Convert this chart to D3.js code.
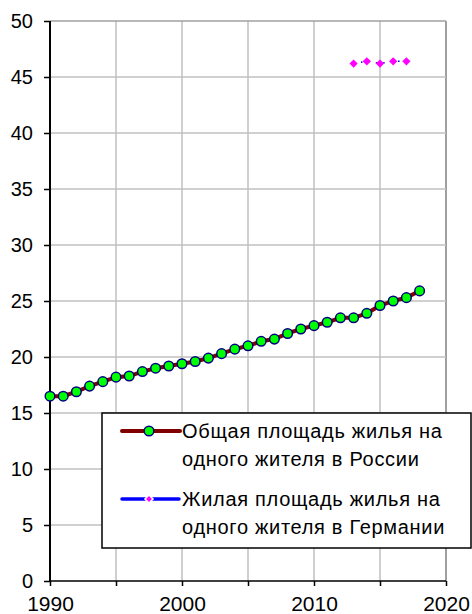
<!DOCTYPE html>
<html>
<head>
<meta charset="utf-8">
<script src="https://cdn.jsdelivr.net/npm/d3@7"></script>
<style>
  body { margin: 0; background: #fff; }
  text { font-family: "Liberation Sans", Arial, sans-serif; }
</style>
</head>
<body>
<div id="chart"></div>
<script>
var ruYears = [1990, 1991, 1992, 1993, 1994, 1995, 1996, 1997, 1998, 1999,
               2000, 2001, 2002, 2003, 2004, 2005, 2006, 2007, 2008, 2009,
               2010, 2011, 2012, 2013, 2014, 2015, 2016, 2017, 2018];
var ruValues = [16.5, 16.5, 16.9, 17.4, 17.8, 18.2, 18.3, 18.7, 19.0, 19.2,
                19.4, 19.6, 19.9, 20.3, 20.7, 21.0, 21.4, 21.6, 22.1, 22.5,
                22.8, 23.1, 23.5, 23.5, 23.9, 24.6, 25.0, 25.3, 25.9];
var deYears = [2013, 2014, 2015, 2016, 2017];
var deValues = [46.2, 46.4, 46.2, 46.4, 46.4];
var xTicks = [1990, 1995, 2000, 2005, 2010, 2015, 2020];
var xLabels = [1990, 2000, 2010, 2020];
var yTicks = [0, 5, 10, 15, 20, 25, 30, 35, 40, 45, 50];
var legendLabels = [
    ["Общая площадь жилья на", "одного жителя в России"],
    ["Жилая площадь жилья на", "одного жителя в Германии"]
];

var width = 472, height = 614;
var font = "'Liberation Sans', Arial, sans-serif";
var svg = d3.select("#chart").append("svg")
    .attr("width", width)
    .attr("height", height);

var x = d3.scaleLinear().domain([1990, 2020]).range([50, 446]);
var y = d3.scaleLinear().domain([0, 50]).range([581, 21]);

// grid
svg.append("g").selectAll("line")
    .data(xTicks.slice(1))
    .enter().append("line")
    .attr("x1", function(d) { return x(d); })
    .attr("x2", function(d) { return x(d); })
    .attr("y1", y(0)).attr("y2", y(50))
    .attr("stroke", function(d) { return d == 2020 ? "#808080" : "#c0c0c0"; })
    .attr("stroke-width", 1.5);
svg.append("g").selectAll("line")
    .data(yTicks.slice(1))
    .enter().append("line")
    .attr("x1", x(1990)).attr("x2", x(2020))
    .attr("y1", function(d) { return y(d); })
    .attr("y2", function(d) { return y(d); })
    .attr("stroke", function(d) { return d == 50 ? "#a0a0a0" : "#c0c0c0"; })
    .attr("stroke-width", 1.5);

// axes
var yAxis = svg.append("g")
    .attr("transform", "translate(" + x(1990) + ",0)")
    .call(d3.axisLeft(y).tickValues(yTicks).tickSize(6).tickPadding(11));
yAxis.attr("font-family", font);
yAxis.select(".domain").attr("stroke-width", 2).attr("d", "M0," + y(0) + "V" + y(50));
yAxis.selectAll("line").attr("stroke-width", 1.5);
yAxis.selectAll("text").attr("font-size", 20).attr("fill", "#000");

var xAxis = svg.append("g")
    .attr("transform", "translate(0," + y(0) + ")")
    .call(d3.axisBottom(x).tickValues(xTicks).tickSize(5).tickPadding(10)
        .tickFormat(function(d) { return xLabels.indexOf(d) >= 0 ? d : ""; }));
xAxis.attr("font-family", font);
xAxis.select(".domain").attr("stroke-width", 1.5).attr("d", "M" + x(1990) + ",0H" + x(2020));
xAxis.selectAll("line").attr("stroke-width", 1.5);
xAxis.selectAll("text").attr("font-size", 21).attr("fill", "#000");

// Russia series
var ru = ruYears.map(function(d, i) { return [d, ruValues[i]]; });
var line = d3.line()
    .x(function(d) { return x(d[0]); })
    .y(function(d) { return y(d[1]); });
svg.append("path")
    .datum(ru)
    .attr("d", line)
    .attr("fill", "none")
    .attr("stroke", "#800000")
    .attr("stroke-width", 4);
svg.append("g").selectAll("circle")
    .data(ru)
    .enter().append("circle")
    .attr("cx", function(d) { return x(d[0]); })
    .attr("cy", function(d) { return y(d[1]); })
    .attr("r", 4.8)
    .attr("fill", "#00ff00")
    .attr("stroke", "#000080")
    .attr("stroke-width", 1.5);

// Germany series
var de = deYears.map(function(d, i) { return [d, deValues[i]]; });
svg.append("path")
    .datum(de)
    .attr("d", line)
    .attr("fill", "none")
    .attr("stroke", "#0000ff")
    .attr("stroke-width", 1.5)
    .attr("stroke-dasharray", "1.5,6");
var diamond = d3.symbol().type(d3.symbolSquare).size(34);
svg.append("g").selectAll("path")
    .data(de)
    .enter().append("path")
    .attr("d", diamond)
    .attr("transform", function(d) { return "translate(" + x(d[0]) + "," + y(d[1]) + ") rotate(45)"; })
    .attr("fill", "#ff00ff");

// legend
var lg = svg.append("g");
lg.append("rect")
    .attr("x", 102).attr("y", 413)
    .attr("width", 369).attr("height", 135)
    .attr("fill", "#fff")
    .attr("stroke", "#000")
    .attr("stroke-width", 1.5);

var rows = [431, 499];
// row 1
lg.append("line").attr("x1", 122).attr("x2", 180).attr("y1", rows[0]).attr("y2", rows[0])
    .attr("stroke", "#800000").attr("stroke-width", 4).attr("stroke-linecap", "round");
lg.append("circle").attr("cx", 149).attr("cy", rows[0]).attr("r", 4.8)
    .attr("fill", "#00ff00").attr("stroke", "#000080").attr("stroke-width", 1.5);
// row 2
lg.append("line").attr("x1", 122).attr("x2", 179).attr("y1", rows[1]).attr("y2", rows[1])
    .attr("stroke", "#0000ff").attr("stroke-width", 3.5).attr("stroke-linecap", "round");
lg.append("path").attr("d", d3.symbol().type(d3.symbolSquare).size(32))
    .attr("transform", "translate(149," + rows[1] + ") rotate(45)")
    .attr("fill", "#ff00ff").attr("stroke", "#fff").attr("stroke-width", 1.5);

legendLabels.forEach(function(lines, i) {
    var t = lg.append("text")
        .attr("x", 182)
        .attr("y", rows[i] + 7)
        .attr("font-size", 20)
        .attr("letter-spacing", 0.7)
        .attr("fill", "#000");
    lines.forEach(function(s, j) {
        t.append("tspan").attr("x", 182).attr("dy", j == 0 ? 0 : 28).text(s);
    });
});
</script>
</body>
</html>
